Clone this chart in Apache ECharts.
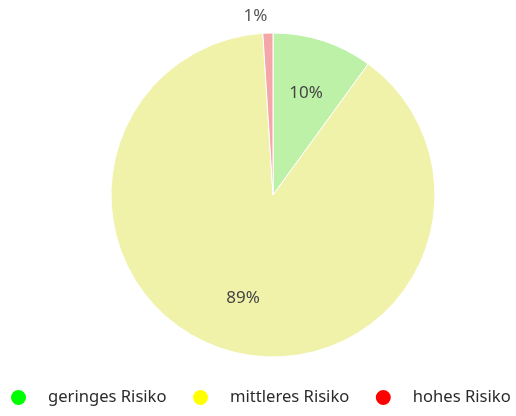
<!DOCTYPE html>
<html>
<head>
<meta charset="utf-8">
<script src="https://cdn.jsdelivr.net/npm/echarts@6/dist/echarts.min.js"></script>
<style>
  html, body { margin: 0; padding: 0; background: #fff; }
  #main { width: 516px; height: 416px; }
</style>
</head>
<body>
<div id="main"></div>
<script>
// data
const categories = ["geringes Risiko", "mittleres Risiko", "hohes Risiko"];
const values = [10, 89, 1];
const sliceColors = ["#bdf1a8", "#f0f2aa", "#f4a6a8"];
const legendColors = ["#00ff00", "#ffff00", "#ff0000"];

const FONT = "Noto Sans";
const CX = 273, CY = 195, R = 162;

var myChart = echarts.init(document.getElementById("main"));

// main pie: only small slices get an outside label
const mainData = categories.map((name, i) => ({
  name: name,
  value: values[i],
  itemStyle: { color: sliceColors[i] },
  label: { show: values[i] < 5 },
}));

// transparent overlay so inside labels sit at ~0.65 of the radius
const labelData = categories.map((name, i) => ({
  name: name + " ",
  value: values[i],
  label: { show: values[i] >= 5 },
}));

myChart.setOption({
  animation: false,
  legend: {
    data: categories.map((name, i) => ({
      name: name,
      itemStyle: { color: legendColors[i] },
    })),
    icon: "circle",
    left: 9,
    top: 388,
    width: 520,
    padding: 0,
    itemWidth: 17,
    itemHeight: 17,
    itemGap: 24.5,
    selectedMode: false,
    textStyle: {
      fontFamily: FONT,
      fontSize: 16.6,
      color: "#2b2b2b",
      padding: [0, 0, 0, 16],
    },
  },
  series: [
    {
      type: "pie",
      center: [CX, CY],
      radius: [0, R],
      startAngle: 90,
      clockwise: true,
      silent: true,
      itemStyle: { borderColor: "#fff", borderWidth: 1 },
      label: {
        position: "outside",
        formatter: (p) => p.value + "%",
        fontFamily: FONT,
        fontSize: 17,
        color: "#555",
        distanceToLabelLine: 0,
      },
      labelLine: { show: false, length: 17, length2: 0 },
      data: mainData,
    },
    {
      type: "pie",
      center: [CX, CY],
      radius: [0, 208],
      startAngle: 90,
      clockwise: true,
      silent: true,
      itemStyle: { color: "rgba(0,0,0,0)" },
      label: {
        position: "inside",
        formatter: (p) => p.value + "%",
        fontFamily: FONT,
        fontSize: 17,
        color: "#444",
      },
      labelLine: { show: false },
      data: labelData,
    },
  ],
});
</script>
</body>
</html>
